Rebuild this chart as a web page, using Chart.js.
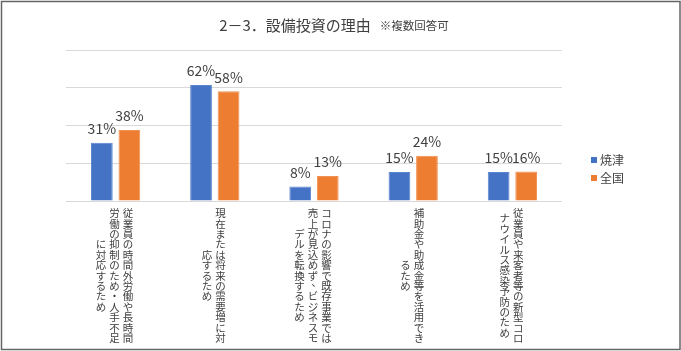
<!DOCTYPE html>
<html>
<head>
<meta charset="utf-8">
<script src="https://cdn.jsdelivr.net/npm/chart.js@4"></script>
<style>
  html, body { margin: 0; padding: 0; background: #fff; }
  #wrap { width: 681px; height: 351px; position: relative; }
</style>
</head>
<body>
<div id="wrap"><canvas id="reasonChart"></canvas></div>
<script>
// category labels, one entry per vertical column (read right to left)
const categories = [
    ['従業員の時間外労働や長時間', '労働の抑制のため・人手不足', 'に対応するため'],
    ['現在または将来の需要増に対', '応するため'],
    ['コロナの影響で既存事業では', '売上が見込めず、ビジネスモ', 'デルを転換するため'],
    ['補助金や助成金等を活用でき', 'るため'],
    ['従業員や来客者等の新型コロ', 'ナウイルス感染予防のため']
];
const yaizu = [30.8, 61.5, 7.7, 15.4, 15.4];
const zenkoku = [37.6, 58.1, 13.2, 24.0, 15.6];
const seriesNames = ['焼津', '全国'];
const yTicks = [0, 20, 40, 60, 80];

const FONT = '"Noto Sans CJK JP", "Noto Sans", sans-serif';
const TEXT = '#404040';

const titlePlugin = {
    id: 'titlePlugin',
    afterDraw(chart) {
        const ctx = chart.ctx;
        const main = '2－3．設備投資の理由';
        const note = '※複数回答可';
        ctx.save();
        ctx.fillStyle = TEXT;
        ctx.textBaseline = 'middle';
        ctx.textAlign = 'left';
        ctx.font = '15px ' + FONT;
        const w1 = ctx.measureText(main).width;
        ctx.font = '11.5px ' + FONT;
        const w2 = ctx.measureText(note).width;
        const gap = 9;
        let x = 334 - (w1 + gap + w2) / 2;
        ctx.font = '15px ' + FONT;
        ctx.fillText(main, x, 25);
        ctx.font = '11.5px ' + FONT;
        ctx.fillText(note, x + w1 + gap, 26);
        ctx.restore();
    }
};

const valueLabels = {
    id: 'valueLabels',
    afterDatasetsDraw(chart) {
        const ctx = chart.ctx;
        ctx.save();
        ctx.fillStyle = TEXT;
        ctx.font = '14px ' + FONT;
        ctx.textAlign = 'center';
        ctx.textBaseline = 'bottom';
        chart.data.datasets.forEach((ds, i) => {
            chart.getDatasetMeta(i).data.forEach((bar, j) => {
                ctx.fillText(Math.round(ds.data[j]) + '%', bar.x, bar.y - 7);
            });
        });
        ctx.restore();
    }
};

const verticalLabels = {
    id: 'verticalLabels',
    afterDraw(chart) {
        const ctx = chart.ctx;
        const xScale = chart.scales.x;
        const pitch = 10.4;
        const colPitch = 13.5;
        const centerY = chart.chartArea.bottom + 7 + 13 * pitch / 2;
        ctx.save();
        ctx.fillStyle = TEXT;
        ctx.font = '10.5px ' + FONT;
        ctx.textAlign = 'center';
        ctx.textBaseline = 'middle';
        chart.data.labels.forEach((cols, i) => {
            const cx = xScale.getPixelForValue(i) - 1;
            cols.forEach((line, k) => {
                const x = cx + ((cols.length - 1) / 2 - k) * colPitch;
                const chars = Array.from(line);
                const top = centerY - chars.length * pitch / 2;
                chars.forEach((ch, n) => {
                    let dx = 0, dy = 0;
                    if (ch === '、' || ch === '。') { dx = 3.5; dy = -3.5; }
                    ctx.fillText(ch, x + dx, top + (n + 0.5) * pitch + dy);
                });
            });
        });
        ctx.restore();
    }
};

const sideLegend = {
    id: 'sideLegend',
    afterDraw(chart) {
        const ctx = chart.ctx;
        ctx.save();
        ctx.font = '12px ' + FONT;
        ctx.textBaseline = 'middle';
        ctx.textAlign = 'left';
        chart.data.datasets.forEach((ds, i) => {
            const y = 160 + i * 18;
            ctx.fillStyle = ds.backgroundColor;
            ctx.fillRect(591, y - 3, 6, 6);
            ctx.fillStyle = TEXT;
            ctx.fillText(ds.label, 600, y);
        });
        ctx.restore();
    }
};

const frame = {
    id: 'frame',
    afterDraw(chart) {
        const ctx = chart.ctx;
        ctx.save();
        ctx.strokeStyle = '#666666';
        ctx.lineWidth = 1.5;
        ctx.strokeRect(1.5, 1.5, 678.5, 348);
        ctx.restore();
    }
};

const ctx = document.getElementById('reasonChart').getContext('2d');

new Chart(ctx, {
    type: 'bar',
    data: {
        labels: categories,
        datasets: [
            {
                label: seriesNames[0],
                data: yaizu,
                backgroundColor: '#4472C4',
                borderColor: '#5b84cf',
                borderWidth: 1,
                barPercentage: 0.79,
                categoryPercentage: 0.555
            },
            {
                label: seriesNames[1],
                data: zenkoku,
                backgroundColor: '#ED7D31',
                borderColor: '#f19153',
                borderWidth: 1,
                barPercentage: 0.79,
                categoryPercentage: 0.555
            }
        ]
    },
    options: {
        responsive: true,
        maintainAspectRatio: false,
        animation: false,
        layout: {
            padding: { left: 66, right: 119, top: 50, bottom: 150 }
        },
        plugins: {
            legend: { display: false },
            title: { display: false },
            tooltip: { enabled: false }
        },
        scales: {
            x: {
                display: false
            },
            y: {
                min: yTicks[0],
                max: yTicks[yTicks.length - 1],
                afterBuildTicks: (axis) => {
                    axis.ticks = yTicks.map(v => ({ value: v }));
                },
                ticks: { display: false },
                border: { display: false },
                grid: {
                    color: '#d9d9d9',
                    lineWidth: 1,
                    drawTicks: false
                }
            }
        }
    },
    plugins: [titlePlugin, valueLabels, verticalLabels, sideLegend, frame]
});
</script>
</body>
</html>
